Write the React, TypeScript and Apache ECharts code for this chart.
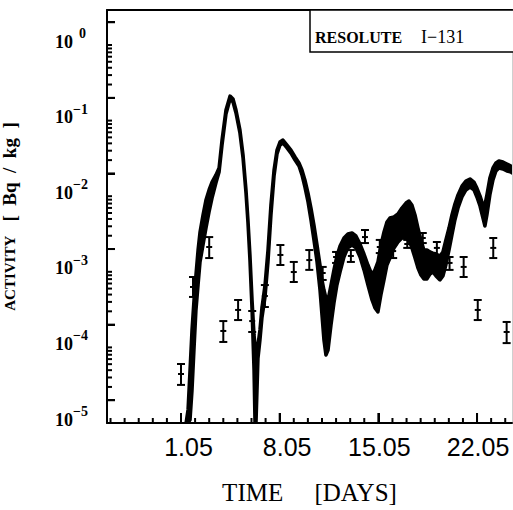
import React, { useEffect, useRef } from 'react';
import * as echarts from 'echarts';

// ---- model prediction band (Bq/kg), day of May ----
const bandDays = [
  1.36, 1.5, 1.64, 1.78, 1.92, 2.06, 2.21, 2.35, 2.56, 2.77,
  2.99, 3.2, 3.48, 3.7, 3.91, 4.19, 4.48, 4.69, 4.9, 5.18,
  5.4, 5.61, 5.75, 5.89, 6.04, 6.18, 6.25, 6.32, 6.39, 6.46,
  6.6, 6.74, 6.96, 7.17, 7.38, 7.6, 7.81, 8.02, 8.23, 8.52,
  8.8, 9.09, 9.37, 9.58, 9.79, 10.01, 10.22, 10.43, 10.65, 10.86,
  11.0, 11.14, 11.28, 11.43, 11.64, 11.85, 12.06, 12.28, 12.56, 12.84,
  13.13, 13.41, 13.7, 13.98, 14.26, 14.55, 14.76, 14.97, 15.18, 15.4,
  15.61, 15.82, 16.11, 16.39, 16.67, 16.96, 17.17, 17.38, 17.6, 17.81,
  18.02, 18.23, 18.45, 18.66, 18.87, 19.09, 19.37, 19.58, 19.79, 20.01,
  20.22, 20.43, 20.65, 20.93, 21.21, 21.5, 21.78, 21.99, 22.21, 22.42,
  22.56, 22.7, 22.91, 23.13, 23.34, 23.55, 23.84, 24.12, 24.4, 24.69,
];
const bandUpper = [
  6.0e-6, 1.5e-5, 5.0e-5, 1.7e-4, 4.2e-4, 9.1e-4, 1.94e-3, 3.36e-3, 5.64e-3, 8.91e-3,
  1.21e-2, 1.54e-2, 1.91e-2, 2.36e-2, 5.53e-2, 0.138, 0.211, 0.193, 0.138, 0.0752,
  0.0351, 0.0121, 4.84e-3, 1.67e-3, 4.24e-4, 1.46e-4, 1.08e-4, 7.9e-5, 8.7e-5, 1.08e-4,
  1.7e-4, 3.32e-4, 6.68e-4, 1.94e-3, 7.66e-3, 2.22e-2, 4.08e-2, 5.21e-2, 5.53e-2, 4.75e-2,
  4.08e-2, 3.3e-2, 2.75e-2, 2.22e-2, 1.64e-2, 1.1e-2, 6.98e-3, 4.16e-3, 2.26e-3, 1.23e-3,
  7.8e-4, 5.74e-4, 4.5e-4, 4.24e-4, 6.68e-4, 1.06e-3, 1.62e-3, 2.19e-3, 2.8e-3, 3.16e-3,
  3.26e-3, 2.98e-3, 2.33e-3, 1.72e-3, 1.23e-3, 9.08e-4, 1.06e-3, 1.35e-3, 2.26e-3, 3.36e-3,
  4.56e-3, 5.15e-3, 5.31e-3, 5.82e-3, 6.98e-3, 8.13e-3, 8.65e-3, 7.66e-3, 5.64e-3, 3.79e-3,
  2.64e-3, 1.94e-3, 1.94e-3, 1.83e-3, 1.77e-3, 1.72e-3, 1.62e-3, 1.83e-3, 2.64e-3, 3.79e-3,
  5.64e-3, 7.88e-3, 1.04e-2, 1.36e-2, 1.59e-2, 1.69e-2, 1.54e-2, 1.28e-2, 1.01e-2, 7.66e-3,
  7.66e-3, 1.04e-2, 1.74e-2, 2.36e-2, 2.75e-2, 2.92e-2, 2.83e-2, 2.67e-2, 2.51e-2, 2.43e-2,
];
const bandLower = [
  3.2e-6, 6.0e-6, 1.1e-5, 2.7e-5, 9.3e-5, 3.1e-4, 6.7e-4, 1.35e-3, 2.26e-3, 3.79e-3,
  6.18e-3, 9.46e-3, 1.5e-2, 2.09e-2, 4.75e-2, 0.122, 0.193, 0.176, 0.126, 0.0686,
  0.032, 0.011, 4.43e-3, 1.43e-3, 3.13e-4, 5.0e-5, 6.0e-6, 6.0e-6, 2.7e-5, 7.2e-5,
  1.25e-4, 2.45e-4, 4.65e-4, 1.35e-3, 5.64e-3, 1.85e-2, 3.61e-2, 4.75e-2, 5.06e-2, 4.35e-2,
  3.72e-2, 3.01e-2, 2.51e-2, 1.91e-2, 1.32e-2, 8.38e-3, 4.84e-3, 2.64e-3, 1.35e-3, 5.74e-4,
  2.68e-4, 1.25e-4, 7.92e-5, 9.25e-5, 1.98e-4, 3.86e-4, 6.68e-4, 9.93e-4, 1.57e-3, 2.07e-3,
  2.26e-3, 2.07e-3, 1.57e-3, 1.06e-3, 6.68e-4, 4.24e-4, 3.32e-4, 2.94e-4, 4.93e-4, 7.8e-4,
  1.23e-3, 1.52e-3, 2.07e-3, 2.48e-3, 2.8e-3, 2.8e-3, 2.64e-3, 2.07e-3, 1.52e-3, 1.12e-3,
  9.08e-4, 8.04e-4, 8.04e-4, 9.35e-4, 9.93e-4, 8.79e-4, 7.8e-4, 8.79e-4, 1.23e-3, 1.94e-3,
  3.07e-3, 4.84e-3, 6.98e-3, 9.76e-3, 1.21e-2, 1.32e-2, 1.21e-2, 9.76e-3, 7.41e-3, 5.15e-3,
  4.04e-3, 5.64e-3, 1.04e-2, 1.64e-2, 2.15e-2, 2.36e-2, 2.29e-2, 2.15e-2, 2.09e-2, 2.03e-2,
];

// ---- measurements with error bars ----
const obsDays = [1.0, 1.85, 3.0, 4.0, 5.05, 6.05, 6.95, 8.05, 9.0, 10.1, 11.05, 12.0, 13.05, 14.05, 15.1, 16.05, 17.05, 18.15, 19.15, 20.05, 21.05, 22.05, 23.15, 24.1];
const obsValue = [4.45e-5, 6.3e-4, 2.13e-3, 1.65e-4, 3.13e-4, 2.23e-4, 4.79e-4, 1.67e-3, 9.93e-4, 1.43e-3, 9.64e-4, 1.57e-3, 1.62e-3, 2.88e-3, 2.13e-3, 1.88e-3, 2.33e-3, 2.8e-3, 2.07e-3, 1.31e-3, 1.16e-3, 3.13e-4, 2.07e-3, 1.6e-4];
const obsHigh = [6.03e-5, 8.53e-4, 2.88e-3, 2.23e-4, 4.24e-4, 3.03e-4, 6.68e-4, 2.26e-3, 1.35e-3, 1.94e-3, 1.16e-3, 1.83e-3, 1.94e-3, 3.57e-3, 2.64e-3, 2.26e-3, 2.64e-3, 3.26e-3, 2.48e-3, 1.57e-3, 1.57e-3, 4.24e-4, 2.8e-3, 2.17e-4];
const obsLow = [3.19e-5, 4.65e-4, 1.52e-3, 1.18e-4, 2.3e-4, 1.6e-4, 3.42e-4, 1.23e-3, 7.33e-4, 1.06e-3, 7.8e-4, 1.31e-3, 1.35e-3, 2.4e-3, 1.77e-3, 1.52e-3, 2.07e-3, 2.4e-3, 1.67e-3, 1.06e-3, 8.53e-4, 2.3e-4, 1.52e-3, 1.14e-4];

// ---- axis labels ----
const xLabelDays = [1, 8, 15, 22];
const xTickLabels = ['1.05', '8.05', '15.05', '22.05'];
const yLabelExponents = [-5, -4, -3, -2, -1, 0];

const X_MIN = -4.25;
const X_MAX = 24.48;
const Y_MIN = -5;
const Y_MAX = 0.463;
const lg = (v: number) => Math.log10(v);

export default function App() {
  const ref = useRef<HTMLDivElement>(null);
  useEffect(() => {
    if (!ref.current) return;
    const chart = echarts.init(ref.current, undefined, { renderer: 'svg' });

    const clampY = (v: number) => Math.max(Y_MIN, lg(v));
    const clampX = (d: number) => Math.min(X_MAX, d);
    const obsData = obsDays.map((d, i) => [d, lg(obsValue[i]), lg(obsLow[i]), lg(obsHigh[i])]);
    const bandData = bandDays.map((d, i) => [d, lg(bandLower[i]), lg(bandUpper[i])]);

    // tick positions and lengths
    const xTickPos: number[] = [];
    const xTickLen: number[] = [];
    for (let d = -4; d <= 24; d++) {
      xTickPos.push(d);
      xTickLen.push(xLabelDays.includes(d) ? 10 : 5);
    }
    const yTickPos: number[] = [];
    const yTickLen: number[] = [];
    for (let n = -5; n <= 0; n++) {
      for (let k = 1; k <= 9; k++) {
        const v = lg(k) + n;
        if (v > Y_MAX + 1e-9) continue;
        yTickPos.push(v);
        yTickLen.push(k === 2 ? 8 : 5);
      }
    }
    const majorY = yTickPos.filter((_v, i) => yTickLen[i] === 8);

    const serif = 'Liberation Serif';
    const blank = { show: false };
    const common = { type: 'value', splitLine: blank, splitArea: blank, minorTick: blank, minorSplitLine: blank };

    chart.setOption({
      animation: false,
      backgroundColor: '#fff',
      textStyle: { fontFamily: serif, color: '#000' },
      grid: { left: 107, right: 1, top: 10, bottom: 87, containLabel: false, outerBoundsMode: 'none' },
      xAxis: [
        {
          ...common, min: X_MIN, max: X_MAX, position: 'bottom',
          axisLine: { show: true, onZero: false, lineStyle: { color: '#000', width: 2 } },
          axisTick: { show: true, inside: true, length: 10, customValues: xLabelDays, lineStyle: { color: '#000', width: 2 } },
          axisLabel: {
            show: true,
            customValues: xLabelDays,
            margin: 11,
            formatter: (v: number) => {
              const i = xLabelDays.indexOf(Math.round(v));
              const s = i >= 0 ? xTickLabels[i] : '';
              return s.length === 4 ? `{a|${s}}` : `{b|${s}}`;
            },
            rich: {
              a: { fontFamily: 'Liberation Sans', fontSize: 25, color: '#000', padding: [0, 0, 0, 15] },
              b: { fontFamily: 'Liberation Sans', fontSize: 25, color: '#000', padding: [0, 0, 0, 2] },
            },
          },
          name: 'TIME     [DAYS]',
          nameLocation: 'middle',
          nameGap: 57,
          nameTextStyle: { fontFamily: serif, fontSize: 25, color: '#000' },
        },
        {
          ...common, min: X_MIN, max: X_MAX, position: 'top',
          axisLine: { show: true, onZero: false, lineStyle: { color: '#000', width: 2 } },
          axisTick: blank, axisLabel: blank,
        },
      ],
      yAxis: [
        {
          ...common, min: Y_MIN, max: Y_MAX, position: 'left',
          axisLine: { show: true, onZero: false, lineStyle: { color: '#000', width: 2 } },
          axisTick: { show: true, inside: true, length: 8, customValues: majorY, lineStyle: { color: '#000', width: 2 } },
          axisLabel: {
            show: true,
            customValues: yLabelExponents,
            align: 'left',
            margin: 52,
            padding: [0, 0, 13, 0],
            formatter: (v: number) => {
              const e = Math.round(v);
              return e === 0 ? '{b|10}{z|0}' : `{b|10}{s|\u2212${-e}}`;
            },
            rich: {
              b: { fontFamily: serif, fontWeight: 'bold', fontSize: 18, lineHeight: 24, verticalAlign: 'bottom', color: '#000' },
              s: { fontFamily: serif, fontWeight: 'bold', fontSize: 14, lineHeight: 24, verticalAlign: 'top', color: '#000' },
              z: { fontFamily: serif, fontWeight: 'bold', fontSize: 14, lineHeight: 24, verticalAlign: 'top', color: '#000', padding: [0, 0, 0, 6] },
            },
          },
          name: '{a|ACTIVITY}{b|   [  Bq  /  kg  ]}',
          nameLocation: 'middle',
          nameRotate: 90,
          nameGap: 88,
          nameTextStyle: {
            rich: {
              a: { fontFamily: serif, fontWeight: 'bold', fontSize: 15, color: '#000' },
              b: { fontFamily: serif, fontWeight: 'bold', fontSize: 19, color: '#000' },
            },
          },
        },
        {
          ...common, min: Y_MIN, max: Y_MAX, position: 'right',
          axisLine: { show: true, onZero: false, lineStyle: { color: '#cfcfcf', width: 1 } },
          axisTick: blank, axisLabel: blank,
        },
      ],
      graphic: [
        {
          type: 'rect', z: 50,
          shape: { x: 310, y: 10, width: 215, height: 42 },
          style: { fill: '#fff', stroke: '#000', lineWidth: 1.5 },
        },
        {
          type: 'text', z: 51, x: 315, y: 37,
          style: { text: 'RESOLUTE', font: `bold 16px "${serif}"`, fill: '#000', verticalAlign: 'middle' },
        },
        {
          type: 'text', z: 51, x: 421, y: 37,
          style: { text: 'I\u2212131', font: `18px "${serif}"`, fill: '#000', verticalAlign: 'middle' },
        },
      ],
      series: [
        {
          name: 'band', type: 'custom', xAxisIndex: 0, yAxisIndex: 0, z: 2, clip: true,
          data: bandData,
          encode: { x: 0, y: [1, 2] },
          renderItem: (params: any, api: any) => {
            if (params.dataIndex !== 0) return null;
            const top = bandDays.map((d, i) => api.coord([clampX(d), clampY(bandUpper[i])]));
            const bot = bandDays.map((d, i) => api.coord([clampX(d), clampY(bandLower[i])])).reverse();
            return {
              type: 'polygon',
              shape: { points: top.concat(bot) },
              style: { fill: '#000', stroke: '#000', lineWidth: 3.5, lineJoin: 'round' },
            };
          },
        },
        {
          name: 'measured', type: 'custom', xAxisIndex: 0, yAxisIndex: 0, z: 3,
          data: obsData,
          encode: { x: 0, y: [1, 2, 3] },
          renderItem: (params: any, api: any) => {
            const x = api.value(0);
            const c = api.coord([x, api.value(1)]);
            const lo = api.coord([x, api.value(2)]);
            const hi = api.coord([x, api.value(3)]);
            const st = { stroke: '#000', lineWidth: 2 };
            const children: any[] = [
              { type: 'line', shape: { x1: c[0], y1: hi[1], x2: c[0], y2: lo[1] }, style: st },
              { type: 'line', shape: { x1: c[0] - 4, y1: hi[1], x2: c[0] + 4, y2: hi[1] }, style: st },
              { type: 'line', shape: { x1: c[0] - 4, y1: lo[1], x2: c[0] + 4, y2: lo[1] }, style: st },
              { type: 'line', shape: { x1: c[0] - 3, y1: c[1], x2: c[0] + 3, y2: c[1] }, style: st },
            ];
            if (params.dataIndex === 0) {
              // axis tick marks (inside), positioned through the axis scales
              xTickPos.forEach((d, i) => {
                const p = api.coord([d, Y_MIN]);
                children.push({ type: 'line', shape: { x1: p[0], y1: p[1], x2: p[0], y2: p[1] - xTickLen[i] }, style: st });
              });
              yTickPos.forEach((v, i) => {
                const p = api.coord([X_MIN, v]);
                children.push({ type: 'line', shape: { x1: p[0], y1: p[1], x2: p[0] + yTickLen[i], y2: p[1] }, style: st });
              });
            }
            return { type: 'group', children };
          },
        },
      ],
    });
    return () => chart.dispose();
  }, []);
  return <div ref={ref} style={{ position: 'absolute', left: 0, top: 0, width: 513, height: 510 }} />;
}
